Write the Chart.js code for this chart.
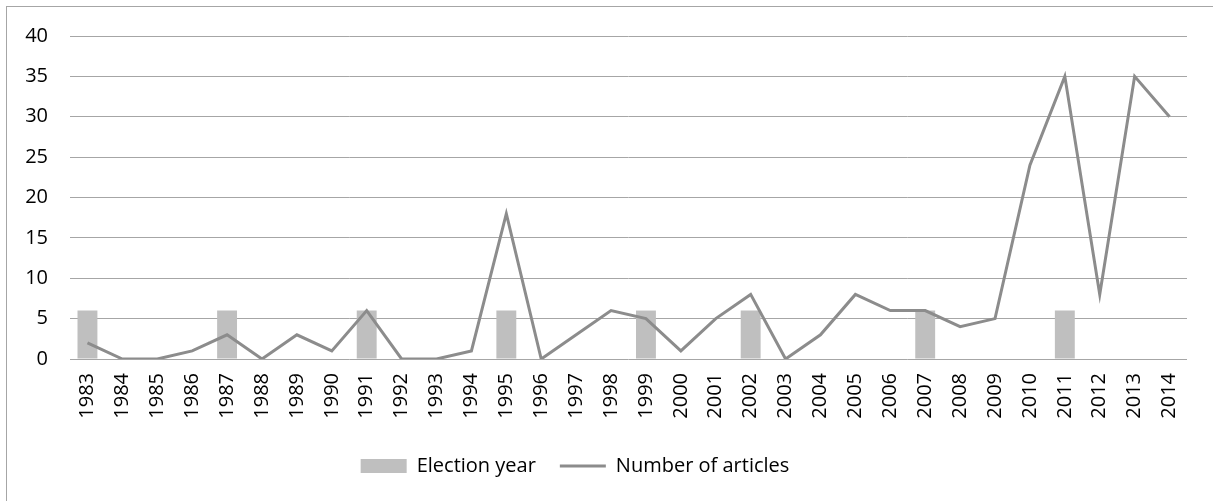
<!DOCTYPE html>
<html>
<head>
<meta charset="utf-8">
<script src="https://cdn.jsdelivr.net/npm/chart.js@4/dist/chart.umd.min.js"></script>
<style>
  html, body { margin: 0; padding: 0; background: #fff; overflow: hidden; }
  #frame {
    position: absolute; left: 6px; top: 6px;
    width: 1212px; height: 500px;
    border: 1px solid #a6a6a6; box-sizing: border-box;
  }
  #wrap { position: absolute; left: 0; top: 0; width: 1206px; height: 494px; }
</style>
</head>
<body>
<div id="frame"><div id="wrap"><canvas id="chart"></canvas></div></div>
<script>
// years on the x axis
const years = ['1983', '1984', '1985', '1986', '1987', '1988', '1989', '1990', '1991', '1992',
  '1993', '1994', '1995', '1996', '1997', '1998', '1999', '2000', '2001', '2002', '2003',
  '2004', '2005', '2006', '2007', '2008', '2009', '2010', '2011', '2012', '2013', '2014'];

// election years are marked with a bar of height 6
const electionYear = [6, null, null, null, 6, null, null, null, 6, null,
  null, null, 6, null, null, null, 6, null, null, 6, null,
  null, null, null, 6, null, null, null, 6, null, null, null];

const articles = [2, 0, 0, 1, 3, 0, 3, 1, 6, 0,
  0, 1, 18, 0, 3, 6, 5, 1, 5, 8, 0,
  3, 8, 6, 6, 4, 5, 24, 35, 8, 35, 30];

const yTicks = [0, 5, 10, 15, 20, 25, 30, 35, 40];

const font = { family: 'Open Sans', size: 20 };
Chart.defaults.font.family = font.family;
Chart.defaults.color = '#000';

// the legend sits a bit left of centre in the original
const legendShift = {
  id: 'legendShift',
  afterLayout(chart) {
    chart.legend.left -= 22;
    chart.legend.right -= 22;
  }
};

new Chart(document.getElementById('chart'), {
  type: 'bar',
  data: {
    labels: years,
    datasets: [{
      label: 'Election year',
      data: electionYear,
      backgroundColor: '#bfbfbf',
      borderWidth: 0,
      barPercentage: 0.57,
      categoryPercentage: 1,
      pointStyle: 'rect',
      order: 1
    }, {
      type: 'line',
      label: 'Number of articles',
      data: articles,
      borderColor: '#8c8c8c',
      backgroundColor: '#8c8c8c',
      borderWidth: 3,
      pointRadius: 0,
      pointStyle: 'line',
      tension: 0,
      fill: false,
      order: 0
    }]
  },
  options: {
    responsive: true,
    maintainAspectRatio: false,
    animation: false,
    layout: { padding: { top: 29, right: 26, left: 0, bottom: 15 } },
    scales: {
      x: {
        offset: true,
        grid: { display: false },
        border: { display: false },
        ticks: {
          font: font,
          minRotation: 90,
          maxRotation: 90,
          autoSkip: false,
          padding: 6
        },
        afterFit: s => { s.height = 73; }
      },
      y: {
        min: 0,
        max: 40,
        afterBuildTicks: s => { s.ticks = yTicks.map(v => ({ value: v })); },
        grid: { color: '#a6a6a6', lineWidth: 1, drawTicks: false },
        border: { display: false },
        ticks: { font: font, padding: 22 },
        // fixed axis width, and no extra room above the top label
        afterFit: s => { s.width = 63; s.paddingTop = 0; s.paddingBottom = 0; }
      }
    },
    plugins: {
      tooltip: { enabled: false },
      legend: {
        position: 'bottom',
        labels: {
          font: font,
          color: '#000',
          usePointStyle: true,
          pointStyleWidth: 46,
          boxHeight: 14,
          padding: 24,
          sort: (a, b) => a.datasetIndex - b.datasetIndex
        }
      }
    }
  },
  plugins: [legendShift]
});
</script>
</body>
</html>
